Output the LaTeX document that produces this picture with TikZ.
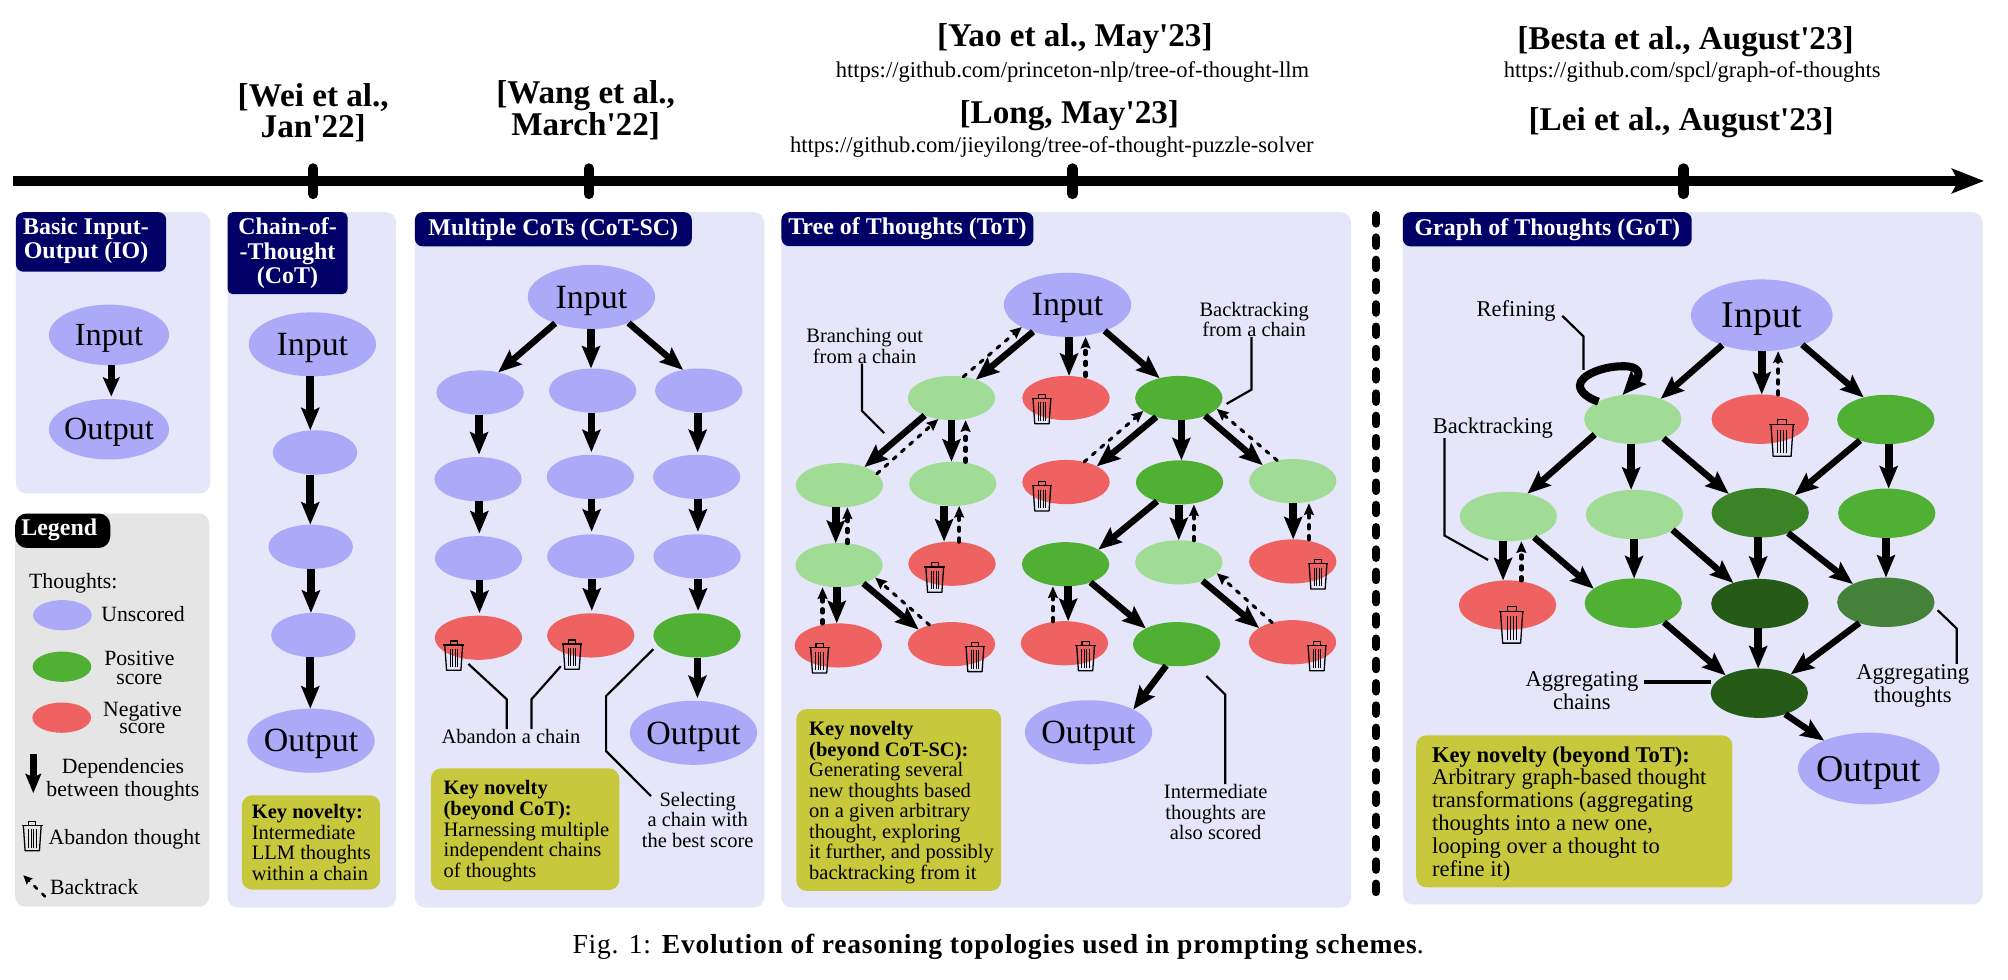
\documentclass[tikz,border=0pt]{standalone}
\usepackage{fontspec}
\setmainfont{Liberation Serif}
\newfontfamily\plainrm{Liberation Serif}
\newfontfamily\capfont[LetterSpace=2.8]{Liberation Serif}
\usetikzlibrary{arrows.meta,shapes.geometric,calc}
\definecolor{lav}{HTML}{E6E6FA}
\definecolor{legbg}{HTML}{E5E5E5}
\definecolor{navyh}{HTML}{000066}
\definecolor{keyc}{HTML}{C8C83C}
\definecolor{cblue}{HTML}{AAAAF8}
\definecolor{clight}{HTML}{A0DC96}
\definecolor{cgreen}{HTML}{50B033}
\definecolor{cdark}{HTML}{3A8426}
\definecolor{cdarker}{HTML}{255B16}
\definecolor{cmid}{HTML}{44823A}
\definecolor{cred}{HTML}{EF6262}
\newcommand{\fs}[2]{\fontsize{#1}{#2}\selectfont}
\newcommand{\VA}[3]{\draw[arrv] ([xshift=#3pt]#1.south) -- ([xshift=#3pt]#1.south |- #2.north);}
\newcommand{\VB}[3]{\draw[dashv] ([xshift=#3pt]#1.north) -- ([xshift=#3pt]#1.north |- #2.south);}
\tikzset{
  panel/.style={rectangle,rounded corners=8pt,fill=lav,draw=none,inner sep=0pt,anchor=north west},
  headbg/.style={rectangle,rounded corners=6pt,fill=navyh,draw=none,inner sep=0pt,anchor=north west},
  headtx/.style={inner sep=0pt,text=white,align=center,font=\bfseries\fs{18.7}{18.8}},
  header/.style={headbg,headtx},
  keybox/.style={rectangle,rounded corners=8pt,fill=keyc,draw=none,anchor=north west,inner sep=0pt},
  keytx/.style={anchor=west,align=left,inner sep=0pt,font=\fs{16}{16.05}},
  ell/.style 2 args={shape=ellipse,draw=none,inner sep=0pt,outer sep=0pt,minimum width=#1pt,minimum height=#2pt},
  lblio/.style={inner sep=0pt,text depth=0pt,font=\fs{25.2}{26}},
  lblbig/.style={inner sep=0pt,text depth=0pt,font=\fs{26.5}{28}},
  lblg/.style={inner sep=0pt,text depth=0pt,font=\fs{29.5}{30}},
  iobig/.style={ell={93.8}{47.2},label={[lblio]center:#1}},
  big/.style={ell={99.4}{50},label={[lblbig]center:#1}},
  gbig/.style={ell={110.6}{56},label={[lblg]center:#1}},
  sm/.style={ell={68.2}{34.5}},
  gsm/.style={ell={76}{38.6}},
  bl/.style={fill=cblue},
  lg/.style={fill=clight},
  gr/.style={fill=cgreen},
  dk/.style={fill=cdark},
  dr/.style={fill=cdarker},
  md/.style={fill=cmid},
  rd/.style={fill=cred},
  arrv/.style={line width=6pt,-{Stealth[length=17.5pt,width=14pt,inset=3pt]}},
  arrd/.style={line width=5pt,-{Stealth[length=18pt,width=14.5pt,inset=3pt]}},
  dashv/.style={line width=3.3pt,line cap=round,dash pattern=on 2.5pt off 6pt,-{Stealth[length=9pt,width=7.5pt,inset=1pt]}},
  dashd/.style={line width=2.4pt,line cap=round,dash pattern=on 3pt off 5.6pt,-{Stealth[length=9pt,width=8pt,inset=1pt]}},
  note/.style={line width=1.7pt,line join=miter},
  lab/.style={inner sep=0pt,align=center,font=\fs{16}{16.1}},
  glab/.style={inner sep=0pt,align=center,font=\fs{17.6}{18}},
  leg/.style={inner sep=0pt,align=center,font=\fs{17}{18}},
  conf/.style={inner sep=0pt,align=center,font=\plainrm\bfseries\fs{25.9}{24.6}},
  url/.style={inner sep=0pt,align=center,font=\fs{17.63}{18}},
  tick/.style={line width=8pt,line cap=round},
  trashcan/.pic={
    \draw[line width=.9pt,line join=round] (-3.5,-11) -- (-3.5,-14.3) -- (3.5,-14.3) -- (3.5,-11);
    \draw[line width=1.1pt] (-10,-10.5) -- (10,-10.5);
    \draw[line width=1pt,line join=round] (-8.7,-10.5) -- (-7,14.3) -- (7,14.3) -- (8.7,-10.5);
    \foreach \q in {-3.6,-1.2,1.2,3.6}{\draw[line width=.7pt] (\q,-6.5) -- (\q,11.5);}
  }
}
\begin{document}
\begin{tikzpicture}[x=1pt,y=-1pt]
\useasboundingbox (0,0) rectangle (1568,765.25);
\fill[white] (0,0) rectangle (1568,765.25);
% ---------- timeline
\coordinate (tlS) at (10,141.3);
\coordinate (tlE) at (1549.3,141.3);
\draw[line width=7.8pt,-{Stealth[length=25pt,width=19pt,inset=5pt]}] (tlS) -- (tlE);
\foreach \x/\n in {244.6/ta,459.8/tb,837.5/tc,1314.5/td}{
  \coordinate (\n T) at (\x,131.5); \coordinate (\n B) at (\x,151.5);
  \draw[tick] (\n T) -- (\n B);}
\node[conf] (cWei) at (244.6,88.1) {[Wei et al.,\\Jan'22]};
\node[conf] (cWang) at (457.3,86) {[Wang et al.,\\March'22]};
\node[conf] (cYao) at (839.3,30.5) {[Yao et al., May'23]};
\node[url] (uYao) at (837.5,56.1) {https://github.com/princeton-nlp/tree-of-thought-llm};
\node[conf] (cLong) at (835,90.5) {[Long, May'23]};
\node[url] (uLong) at (821.3,114.4) {https://github.com/jieyilong/tree-of-thought-puzzle-solver};
\node[conf] (cBesta) at (1316.2,32.7) {[Besta et al., August'23]};
\node[url] (uBesta) at (1321.4,56) {https://github.com/spcl/graph-of-thoughts};
\node[conf] (cLei) at (1312.7,95.7) {[Lei et al., August'23]};
% ---------- panels
\node[panel,minimum width=151.8pt,minimum height=219.6pt] (pIO) at (12.2,165.5) {};
\node[panel,fill=legbg,minimum width=151.5pt,minimum height=307pt] (pLeg) at (11.7,400.8) {};
\node[panel,minimum width=131.7pt,minimum height=543pt] (pCoT) at (177.5,165.5) {};
\node[panel,minimum width=272.8pt,minimum height=543pt] (pSC) at (323.8,165.5) {};
\node[panel,minimum width=444.8pt,minimum height=543pt] (pToT) at (610,165.5) {};
\node[panel,minimum width=452.8pt,minimum height=540.5pt] (pGoT) at (1095.2,165.5) {};
\coordinate (sepT) at (1074.6,168); \coordinate (sepB) at (1074.6,701);
\draw[line width=6.3pt,line cap=round,dash pattern=on 6.6pt off 10.8pt] (sepT) -- (sepB);
% ---------- headers
\node[headbg,minimum width=117.4pt,minimum height=46.5pt] (hIO) at (12.2,165.5) {};
\node[headtx] (hIOt) at (67.2,188) {Basic Input-\\Output (IO)};
\node[header,minimum width=93.7pt,minimum height=64pt,rounded corners=4pt] (hCoT) at (177.5,165.5) {Chain-of-\\-Thought\\(CoT)};
\node[header,minimum width=216.2pt,minimum height=26.7pt] (hSC) at (323.8,165.5) {Multiple CoTs (CoT-SC)};
\node[header,minimum width=196.8pt,minimum height=26.5pt] (hToT) at (610,165.5) {Tree of Thoughts (ToT)};
\node[header,minimum width=225.6pt,minimum height=26.7pt] (hGoT) at (1095.2,165.5) {Graph of Thoughts (GoT)};
\node[headbg,fill=black,rounded corners=9pt,minimum width=74.2pt,minimum height=26.9pt] (hLeg) at (11.7,400.8) {};
\node[headtx] (hLegt) at (46.3,414) {Legend};
% ---------- IO
\node[iobig=Input,bl] (ioIn) at (85.1,261.5) {};
\node[iobig=Output,bl] (ioOut) at (85.1,335.2) {};
\draw[arrv,line width=5.5pt,-{Stealth[length=15pt,width=13pt,inset=3pt]},shorten >=2pt] ([xshift=1.8pt]ioIn.south) -- ([xshift=1.8pt]ioIn.south |- ioOut.north);
% ---------- Legend
\node[leg,anchor=west] (lThoughts) at (22.6,455.8) {Thoughts:};
\node[ell={45.8}{23.6},bl] (lU) at (48.7,480.4) {};
\node[ell={45.8}{23.6},gr] (lP) at (48.4,520.6) {};
\node[ell={45.8}{23.6},rd] (lN) at (48.2,560.4) {};
\node[leg] (tU) at (111.7,479.3) {Unscored};
\node[leg,font=\fs{17}{14.7}] (tP) at (108.8,521.3) {Positive\\score};
\node[leg,font=\fs{17}{13.6}] (tN) at (111.2,560.4) {Negative\\score};
\coordinate (lAs) at (26,588.7); \coordinate (lAe) at (26,619.4);
\draw[arrv,line width=5.7pt,-{Stealth[length=15pt,width=12pt,inset=2.5pt]}] (lAs) -- (lAe);
\node[leg] (tD) at (96,609) {Dependencies\\between thoughts};
\pic[scale=.8] at (25.2,652.9) {trashcan};
\node[leg,anchor=west] (tA) at (37.7,655.5) {Abandon thought};
\coordinate (lBs) at (35.1,700); \coordinate (lBe) at (18.2,683.5);
\draw[dashd,line width=2pt,-{Stealth[length=7pt,width=6.5pt,inset=1pt]}] (lBs) -- (lBe);
\node[leg,anchor=west] (tB) at (39,692.7) {Backtrack};
% ---------- CoT
\node[big=Input,bl] (cIn) at (243.9,268.9) {};
\node[ell={66}{34.6},bl] (c1) at (246,353.3) {};
\node[ell={66}{34.6},bl] (c2) at (242.6,427) {};
\node[ell={66}{34.6},bl] (c3) at (244.7,495.9) {};
\node[big=Output,bl] (cOut) at (242.9,578.4) {};
\VA{cIn}{c1}{-1.6}
\VA{c1}{c2}{-3.7}
\VA{c2}{c3}{.2}
\VA{c3}{cOut}{-2.4}
\node[keybox,minimum width=108pt,minimum height=73.7pt] (kCoT) at (188.7,620.8) {};
\node[keytx] (kCoTt) at ([xshift=7.8pt]kCoT.west) {\textbf{Key novelty:}\\Intermediate\\LLM thoughts\\within a chain};
% ---------- CoT-SC
\node[big=Input,bl] (sIn) at (461.8,231.9) {};
\node[sm,bl] (a1) at (374.9,306.5) {};
\node[sm,bl] (b1) at (462.8,305) {};
\node[sm,bl] (d1) at (545.6,305) {};
\node[sm,bl] (a2) at (373.3,374.2) {};
\node[sm,bl] (b2) at (461,372.4) {};
\node[sm,bl] (d2) at (544,372.4) {};
\node[sm,bl] (a3) at (373.6,435.9) {};
\node[sm,bl] (b3) at (461.3,434.5) {};
\node[sm,bl] (d3) at (544.3,434.5) {};
\node[sm,rd] (a4) at (373.6,498) {};
\node[sm,rd] (b4) at (461.3,496.2) {};
\node[sm,gr] (d4) at (544.3,496.2) {};
\node[big=Output,bl] (sOut) at (541.5,572.2) {};
\draw[arrd] (sIn.216) -- (a1.48);
\VA{sIn}{b1}{-.3}
\draw[arrd] (sIn.-35) -- (d1.127);
\begin{scope}[arrv/.append style={shorten >=2pt}]
\VA{a1}{a2}{-.8}\VA{a2}{a3}{1}\VA{a3}{a4}{.8}
\VA{b1}{b2}{-1}\VA{b2}{b3}{1}\VA{b3}{b4}{.8}
\VA{d1}{d2}{-.8}\VA{d2}{d3}{1}\VA{d3}{d4}{.8}
\VA{d4}{sOut}{.3}
\end{scope}
\pic[scale=.8] at (354.3,512) {trashcan};
\pic[scale=.8] at (446.7,511.2) {trashcan};
\node[lab] (nAb) at (399,575.2) {Abandon a chain};
\draw[note] ([xshift=-3.3pt]nAb.north) -- ++(0,-23.3) -- ++(-29.9,-27.6);
\draw[note] ([xshift=16pt]nAb.north) -- ++(0,-23.3) -- ++(22.9,-25.8);
\node[lab] (nSel) at (544.8,640.3) {Selecting\\a chain with\\the best score};
\draw[note] ([yshift=-10.7pt]d4.west) -- ++(-36.9,36.6) -- ++(0,43) -- ++(35.1,35.2);
\node[keybox,minimum width=147.1pt,minimum height=95pt] (kSC) at (336.3,599.8) {};
\node[keytx] (kSCt) at ([xshift=9.9pt,yshift=-1.5pt]kSC.west) {\textbf{Key novelty}\\\textbf{(beyond CoT):}\\Harnessing multiple\\independent chains\\of thoughts};
% ---------- ToT
\node[big=Input,bl] (tIn) at (833.6,238) {};
\node[sm,lg] (t1a) at (743,310.8) {};
\node[sm,rd] (t1b) at (832.4,310.8) {};
\node[sm,gr] (t1c) at (920.5,310.8) {};
\node[sm,lg] (t2a) at (655.5,378.9) {};
\node[sm,lg] (t2b) at (744,377.8) {};
\node[sm,rd] (t2c) at (832.4,376.4) {};
\node[sm,gr] (t2d) at (921.1,376.7) {};
\node[sm,lg] (t2e) at (1009.5,375.7) {};
\node[sm,lg] (t3a) at (655.2,441.3) {};
\node[sm,rd] (t3b) at (743.4,440.2) {};
\node[sm,gr] (t3c) at (832.1,440.6) {};
\node[sm,lg] (t3d) at (920.5,439.1) {};
\node[sm,rd] (t3e) at (1009.5,438.4) {};
\node[sm,rd] (t4a) at (654.6,504) {};
\node[sm,rd] (t4b) at (743,503) {};
\node[sm,rd] (t4c) at (831.2,502.3) {};
\node[sm,gr] (t4d) at (918.8,503) {};
\node[sm,rd] (t4e) at (1009.3,501.5) {};
\node[big=Output,bl] (tOut) at (850,571.8) {};
\draw[arrd] (tIn.218.5) -- (t1a.37);
\draw[dashd] (t1a.61) -- (tIn.206);
\VA{tIn}{t1b}{1.2}
\VB{t1b}{tIn}{15.3}
\draw[arrd] (tIn.-35) -- (t1c.134);
\draw[arrd] (t1a.213.8) -- (t2a.36);
\draw[dashd] (t2a.17) -- (t1a.238);
\VA{t1a}{t2b}{0}
\VB{t2b}{t1a}{10}
\draw[arrd] (t1c.220) -- (t2c.27);
\draw[dashd] (t2c.48) -- (t1c.200);
\VA{t1c}{t2d}{2}
\draw[arrd] (t1c.-34) -- (t2e.152);
\draw[dashd] (t2e.127) -- (t1c.-16);
\VA{t2a}{t3a}{-2.9}
\VB{t3a}{t2a}{6.5}
\VA{t2b}{t3b}{-6.8}
\VB{t3b}{t2b}{5.6}
\draw[arrd] (t2d.220) -- (t3c.24);
\VA{t2d}{t3d}{-.6}
\VB{t3d}{t2d}{11.8}
\VA{t2e}{t3e}{.3}
\VB{t3e}{t2e}{12.6}
\VA{t3a}{t4a}{-1.8}
\VB{t4a}{t3a}{-12.3}
\draw[arrd] (t3a.-37) -- (t4b.156);
\draw[dashd] (t4b.139) -- (t3a.-19);
\VA{t3c}{t4c}{2}
\VB{t4c}{t3c}{-9}
\draw[arrd] (t3c.-36) -- (t4d.153);
\draw[arrd] (t3d.-38) -- (t4e.157);
\draw[dashd] (t4e.136) -- (t3d.-16.5);
\draw[arrd] (t4d.244) -- (tOut.27);
\foreach \x/\y in {813.6/319.4,813.6/387.5,729.9/451,1029.2/448.5,640/514,761.3/513,847.7/512.3,1028.4/512.3}{\pic[scale=.8] at (\x,\y) {trashcan};}
\node[lab] (nBr) at (675.2,270) {Branching out\\from a chain};
\draw[note] ([xshift=-2.1pt]nBr.south) -- ++(0,37) -- ++(17.4,17.3);
\node[lab] (nBk) at (979.3,249.4) {Backtracking\\from a chain};
\draw[note] ([xshift=-2.1pt]nBk.south) -- ++(0,41) -- ++(-19.4,11.1);
\node[lab] (nIm) at (949.3,634.2) {Intermediate\\thoughts are\\also scored};
\draw[note] ([xshift=7.4pt]nIm.north) -- ++(0,-70) -- ++(-14.7,-14.3);
\node[keybox,minimum width=159.9pt,minimum height=142pt] (kToT) at (621.7,553.5) {};
\node[keytx] (kToTt) at ([xshift=10pt,yshift=-2pt]kToT.west) {\textbf{Key novelty}\\\textbf{(beyond CoT-SC):}\\Generating several\\new thoughts based\\on a given arbitrary\\thought, exploring\\it further, and possibly\\backtracking from it};
% ---------- GoT
\node[gbig=Input,bl] (gIn) at (1375.7,246.2) {};
\node[gsm,lg] (g1a) at (1275,327.3) {};
\node[gsm,rd] (g1b) at (1374.5,327.3) {};
\node[gsm,gr] (g1c) at (1472.6,327.6) {};
\node[gsm,lg] (g2a) at (1177.8,403.3) {};
\node[gsm,lg] (g2b) at (1276.3,401.8) {};
\node[gsm,dk] (g2c) at (1374.5,400.4) {};
\node[gsm,gr] (g2d) at (1473.3,400.8) {};
\node[gsm,rd] (g3a) at (1177.2,472.5) {};
\node[gsm,gr] (g3b) at (1275.4,471) {};
\node[gsm,dr] (g3c) at (1374.2,471.4) {};
\node[gsm,md] (g3d) at (1472.6,470.3) {};
\node[gsm,dr] (g4) at (1373.8,541.3) {};
\node[gbig=Output,bl] (gOut) at (1459.3,600.1) {};
\draw[arrd] (gIn.217) -- (g1a.36);
\VA{gIn}{g1b}{0}
\VB{g1b}{gIn}{14}
\draw[arrd] (gIn.-36) -- (g1c.135);
\draw[arrd] (g1a.202) -- (g2a.50);
\VA{g1a}{g2b}{-1.3}
\draw[arrd] (g1a.-32) -- (g2c.149);
\draw[arrd] (g1c.219) -- (g2c.27.5);
\VA{g1c}{g2d}{2.2}
\VA{g2a}{g3a}{-4.1}
\VB{g3a}{g2a}{10.8}
\draw[arrd] (g2a.-39) -- (g3b.160);
\VA{g2b}{g3b}{-.3}
\draw[arrd] (g2b.-22) -- (g3c.142);
\VA{g2c}{g3c}{-1.6}
\draw[arrd] (g2c.-36) -- (g3d.151);
\VA{g2d}{g3d}{-.6}
\draw[arrd] (g3b.-32) -- (g4.152);
\VA{g3c}{g4}{-1.3}
\draw[arrd] (g3d.218) -- (g4.31);
\draw[arrd] (g4.-39.5) -- (gOut.148);
\draw[arrd,line width=6.3pt,-{Stealth[length=18.5pt,width=15.5pt,inset=3pt]}] (g1a.153) .. controls (1240,311) and (1233.7,306) .. (1233.7,301) .. controls (1233.7,293) and (1252,286) .. (1266.8,286) .. controls (1280,285.5) and (1282,292) .. (g1a.113);
\pic at (1391.6,342) {trashcan};
\pic at (1180.4,487.9) {trashcan};
\node[glab] (nRef) at (1183.9,243) {Refining};
\draw[note] ([shift={(5pt,-3.6pt)}]nRef.east) -- ++(16.6,16.1) -- ++(0,26.2);
\node[glab] (nBt) at (1165.7,334) {Backtracking};
\draw[note] ([xshift=-37.7pt]nBt.south) -- ++(0,76) -- ++(34,19);
\node[glab] (nAc) at (1235.3,539) {Aggregating\\chains};
\draw[line width=3pt] ([shift={(4.5pt,6.3pt)}]nAc.east) coordinate (acS) -- (acS -| g4.west);
\node[glab] (nAt) at (1493.6,535.4) {Aggregating\\thoughts};
\draw[note] ([xshift=34.4pt]nAt.north) -- ++(0,-27.6) -- ++(-15,-14.4);
\node[keybox,minimum width=246.9pt,minimum height=118.7pt] (kGoT) at (1105.7,574) {};
\node[keytx,font=\fs{17.6}{17.8}] (kGoTt) at ([xshift=12.4pt,yshift=-1.8pt]kGoT.west) {\textbf{Key novelty (beyond ToT):}\\Arbitrary graph-based thought\\transformations (aggregating\\thoughts into a new one,\\looping over a thought to\\refine it)};
% ---------- caption
\node[inner sep=0pt,font=\capfont\fs{21.5}{22}] (cap) at (779.5,739) {Fig. 1: \textbf{Evolution of reasoning topologies used in prompting schemes}.};
\end{tikzpicture}
\end{document}
